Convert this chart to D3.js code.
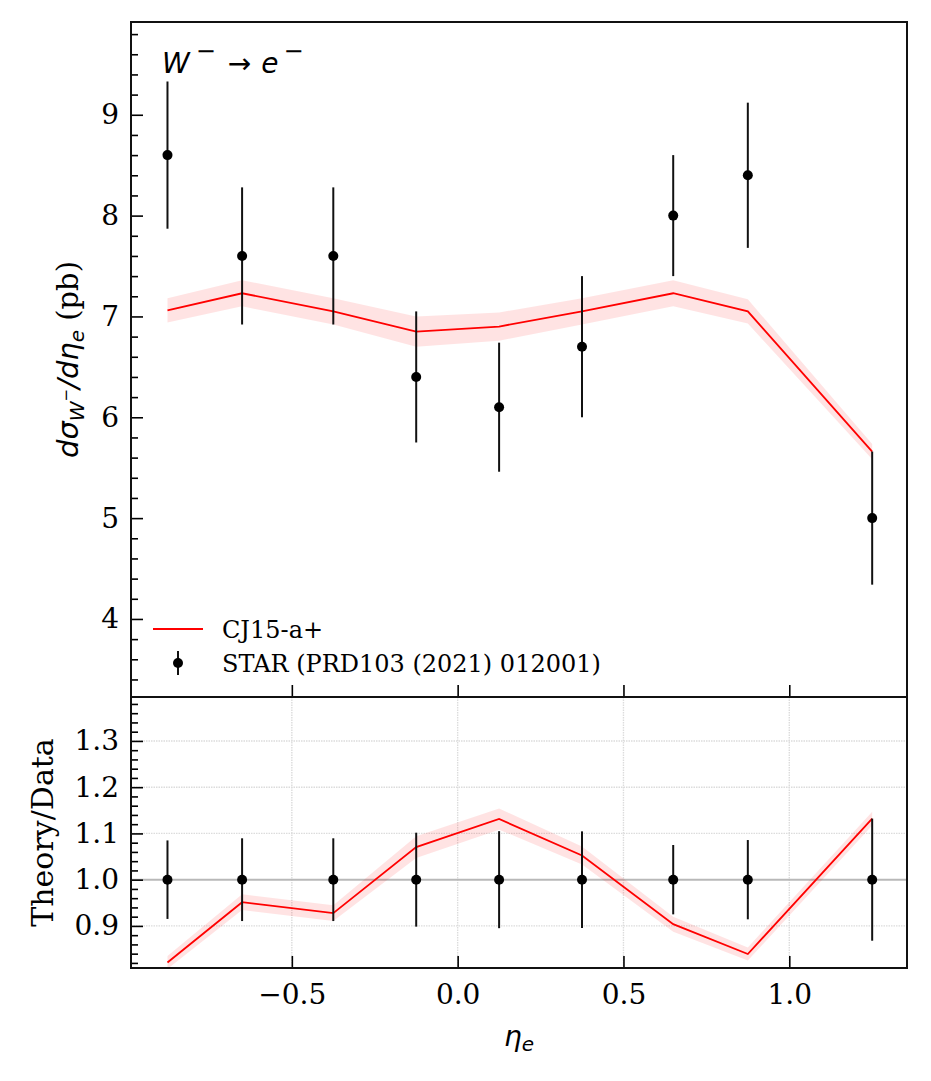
<!DOCTYPE html>
<html>
<head>
<meta charset="utf-8">
<script src="https://cdn.jsdelivr.net/npm/d3@7"></script>
<style>
  body { margin: 0; background: #fff; }
  .tick text { font-family: 'DejaVu Serif', serif; font-size: 28px; fill: #000; }
  .tick line { stroke: #000; stroke-width: 1.6; }
</style>
</head>
<body>
<div id="chart"></div>
<script>
// STAR W- -> e- differential cross section
const eta = [-0.875, -0.65, -0.375, -0.125, 0.125, 0.375, 0.65, 0.875, 1.25];
const sigma = [8.6, 7.6, 7.6, 6.4, 6.1, 6.7, 8.0, 8.4, 5.0];
const sigmaErr = [0.73, 0.68, 0.68, 0.65, 0.64, 0.70, 0.60, 0.72, 0.66];
// CJ15-a+ theory and its band half-width
const theory = [7.06, 7.23, 7.05, 6.85, 6.90, 7.05, 7.23, 7.05, 5.66];
const theoryErr = [0.12, 0.13, 0.13, 0.15, 0.14, 0.13, 0.13, 0.12, 0.075];

const xTicks = [-0.5, 0.0, 0.5, 1.0];
const yTicksTop = [4, 5, 6, 7, 8, 9];
const yTicksBottom = [0.9, 1.0, 1.1, 1.2, 1.3];

const width = 931;
const height = 1081;
const left = 131, right = 907;
const topY0 = 22, topY1 = 697, botY1 = 968;

const svg = d3.select('#chart').append('svg')
    .attr('width', width)
    .attr('height', height);

const xScale = d3.scaleLinear().domain([-0.985, 1.355]).range([left, right]);
const yTop = d3.scaleLinear().domain([3.226, 9.92]).range([topY1, topY0]);
const yBot = d3.scaleLinear().domain([0.809, 1.395]).range([botY1, topY1]);

const fmtX = (d) => (d < 0 ? '\u2212' : '') + Math.abs(d).toFixed(1);

// ratio panel values derived from the data arrays
const rows = eta.map((e, i) => ({
    eta: e,
    sigma: sigma[i],
    err: sigmaErr[i],
    th: theory[i],
    thErr: theoryErr[i],
    ratio: theory[i] / sigma[i],
    ratioErr: theoryErr[i] / sigma[i],
    relErr: sigmaErr[i] / sigma[i],
}));

function minorRange(a, b, step) {
    const out = [];
    for (let v = a; v <= b + 1e-9; v += step) out.push(+v.toFixed(4));
    return out;
}

// ---------- bottom panel grid ----------
const gridB = svg.append('g');
gridB.selectAll('line.vg')
    .data(xTicks)
    .join('line')
    .attr('x1', (d) => xScale(d)).attr('x2', (d) => xScale(d))
    .attr('y1', topY1).attr('y2', botY1)
    .attr('stroke', '#dcdcdc').attr('stroke-width', 1.4)
    .attr('stroke-dasharray', '1.5,1');
gridB.selectAll('line.hg')
    .data(yTicksBottom.filter((d) => d !== 1.0))
    .join('line')
    .attr('x1', left).attr('x2', right)
    .attr('y1', (d) => yBot(d)).attr('y2', (d) => yBot(d))
    .attr('stroke', '#dcdcdc').attr('stroke-width', 1.4)
    .attr('stroke-dasharray', '1.5,1');
gridB.append('line')
    .attr('x1', left).attr('x2', right)
    .attr('y1', yBot(1.0)).attr('y2', yBot(1.0))
    .attr('stroke', '#b8b8b8').attr('stroke-width', 2);

// ---------- clip regions ----------
svg.append('clipPath').attr('id', 'clipTop')
    .append('rect').attr('x', left).attr('y', topY0).attr('width', right - left).attr('height', topY1 - topY0);
svg.append('clipPath').attr('id', 'clipBot')
    .append('rect').attr('x', left).attr('y', topY1).attr('width', right - left).attr('height', botY1 - topY1);

// ---------- top panel marks ----------
const gTop = svg.append('g').attr('clip-path', 'url(#clipTop)');
gTop.append('path')
    .datum(rows)
    .attr('d', d3.area().x((d) => xScale(d.eta)).y0((d) => yTop(d.th - d.thErr)).y1((d) => yTop(d.th + d.thErr)))
    .attr('fill', '#ff0000').attr('fill-opacity', 0.11);
gTop.append('path')
    .datum(rows)
    .attr('d', d3.line().x((d) => xScale(d.eta)).y((d) => yTop(d.th)))
    .attr('fill', 'none').attr('stroke', '#ff0000').attr('stroke-width', 1.8);
gTop.selectAll('line.eb')
    .data(rows)
    .join('line')
    .attr('x1', (d) => xScale(d.eta)).attr('x2', (d) => xScale(d.eta))
    .attr('y1', (d) => yTop(d.sigma - d.err)).attr('y2', (d) => yTop(d.sigma + d.err))
    .attr('stroke', '#111').attr('stroke-width', 2);
gTop.selectAll('circle')
    .data(rows)
    .join('circle')
    .attr('cx', (d) => xScale(d.eta)).attr('cy', (d) => yTop(d.sigma))
    .attr('r', 5).attr('fill', '#000');

// ---------- bottom panel marks ----------
const gBot = svg.append('g').attr('clip-path', 'url(#clipBot)');
gBot.append('path')
    .datum(rows)
    .attr('d', d3.area().x((d) => xScale(d.eta)).y0((d) => yBot(d.ratio - d.ratioErr)).y1((d) => yBot(d.ratio + d.ratioErr)))
    .attr('fill', '#ff0000').attr('fill-opacity', 0.11);
gBot.append('path')
    .datum(rows)
    .attr('d', d3.line().x((d) => xScale(d.eta)).y((d) => yBot(d.ratio)))
    .attr('fill', 'none').attr('stroke', '#ff0000').attr('stroke-width', 1.8);
gBot.selectAll('line.eb')
    .data(rows)
    .join('line')
    .attr('x1', (d) => xScale(d.eta)).attr('x2', (d) => xScale(d.eta))
    .attr('y1', (d) => yBot(1 - d.relErr)).attr('y2', (d) => yBot(1 + d.relErr))
    .attr('stroke', '#111').attr('stroke-width', 2);
gBot.selectAll('circle')
    .data(rows)
    .join('circle')
    .attr('cx', (d) => xScale(d.eta)).attr('cy', yBot(1))
    .attr('r', 5).attr('fill', '#000');

// ---------- axes ----------
function cleanDomain(g) { g.select('.domain').remove(); }

// top panel: y major + minor
svg.append('g')
    .attr('transform', `translate(${left},0)`)
    .call(d3.axisLeft(yTop).tickValues(yTicksTop).tickFormat(d3.format('d')).tickSizeInner(-12).tickSizeOuter(0).tickPadding(12))
    .call(cleanDomain);
svg.append('g')
    .attr('transform', `translate(${left},0)`)
    .call(d3.axisLeft(yTop).tickValues(minorRange(3.4, 9.8, 0.2).filter((v) => Math.abs(v - Math.round(v)) > 1e-6)).tickFormat('').tickSizeInner(-7).tickSizeOuter(0))
    .call(cleanDomain);
// top panel: x ticks on bottom edge, no labels
svg.append('g')
    .attr('transform', `translate(0,${topY1})`)
    .call(d3.axisBottom(xScale).tickValues(xTicks).tickFormat('').tickSizeInner(-12).tickSizeOuter(0))
    .call(cleanDomain);

// bottom panel
svg.append('g')
    .attr('transform', `translate(${left},0)`)
    .call(d3.axisLeft(yBot).tickValues(yTicksBottom).tickFormat(d3.format('.1f')).tickSizeInner(-12).tickSizeOuter(0).tickPadding(12))
    .call(cleanDomain);
svg.append('g')
    .attr('transform', `translate(${left},0)`)
    .call(d3.axisLeft(yBot).tickValues(minorRange(0.82, 1.38, 0.02).filter((v) => Math.abs(v * 10 - Math.round(v * 10)) > 1e-6)).tickFormat('').tickSizeInner(-7).tickSizeOuter(0))
    .call(cleanDomain);
svg.append('g')
    .attr('transform', `translate(0,${botY1})`)
    .call(d3.axisBottom(xScale).tickValues(xTicks).tickFormat(fmtX).tickSizeInner(-12).tickSizeOuter(0).tickPadding(16))
    .call(cleanDomain);

// frames
svg.append('rect').attr('x', left).attr('y', topY0).attr('width', right - left).attr('height', topY1 - topY0)
    .attr('fill', 'none').attr('stroke', '#111').attr('stroke-width', 2);
svg.append('rect').attr('x', left).attr('y', topY1).attr('width', right - left).attr('height', botY1 - topY1)
    .attr('fill', 'none').attr('stroke', '#111').attr('stroke-width', 2);

// ---------- labels ----------
const sans = "'DejaVu Sans', sans-serif";
const serif = "'DejaVu Serif', serif";

const title = svg.append('text').attr('x', 162).attr('y', 73)
    .attr('font-family', sans).attr('font-size', 28);
title.append('tspan').attr('font-style', 'italic').text('W');
title.append('tspan').attr('dx', 6).attr('dy', -14).attr('font-size', 24).text('\u2212');
title.append('tspan').attr('dx', 12).attr('dy', 14).text('\u2192');
title.append('tspan').attr('dx', 10).attr('font-style', 'italic').text('e');
title.append('tspan').attr('dx', 5).attr('dy', -14).attr('font-size', 24).text('\u2212');

const yl = svg.append('text')
    .attr('transform', `translate(78,${(topY0 + topY1) / 2}) rotate(-90)`)
    .attr('text-anchor', 'middle')
    .attr('font-family', sans).attr('font-size', 29);
yl.append('tspan').attr('font-style', 'italic').text('d\u03C3');
yl.append('tspan').attr('font-style', 'italic').attr('font-size', 20).attr('dy', 6).text('W');
yl.append('tspan').attr('font-size', 15).attr('dy', -13).text('\u2212');
yl.append('tspan').attr('font-style', 'italic').attr('dy', 7).text('/d\u03B7');
yl.append('tspan').attr('font-style', 'italic').attr('font-size', 20).attr('dy', 6).text('e');
yl.append('tspan').attr('font-family', serif).attr('dy', -6).text(' (pb)');

svg.append('text')
    .attr('transform', `translate(53,${(topY1 + botY1) / 2}) rotate(-90)`)
    .attr('text-anchor', 'middle')
    .attr('font-family', serif).attr('font-size', 30)
    .text('Theory/Data');

const xl = svg.append('text').attr('x', (left + right) / 2).attr('y', 1046)
    .attr('text-anchor', 'middle').attr('font-family', sans).attr('font-size', 28);
xl.append('tspan').attr('font-style', 'italic').text('\u03B7');
xl.append('tspan').attr('font-style', 'italic').attr('font-size', 20).attr('dy', 5).text('e');

// ---------- legend ----------
const legend = svg.append('g');
legend.append('line').attr('x1', 153).attr('x2', 203).attr('y1', 629).attr('y2', 629)
    .attr('stroke', '#ff0000').attr('stroke-width', 1.8);
legend.append('text').attr('x', 222).attr('y', 638)
    .attr('font-family', serif).attr('font-size', 24).text('CJ15-a+');
legend.append('line').attr('x1', 178).attr('x2', 178).attr('y1', 651).attr('y2', 675)
    .attr('stroke', '#111').attr('stroke-width', 2);
legend.append('circle').attr('cx', 178).attr('cy', 663).attr('r', 5).attr('fill', '#000');
legend.append('text').attr('x', 222).attr('y', 672)
    .attr('font-family', serif).attr('font-size', 24).text('STAR (PRD103 (2021) 012001)');
</script>
</body>
</html>
